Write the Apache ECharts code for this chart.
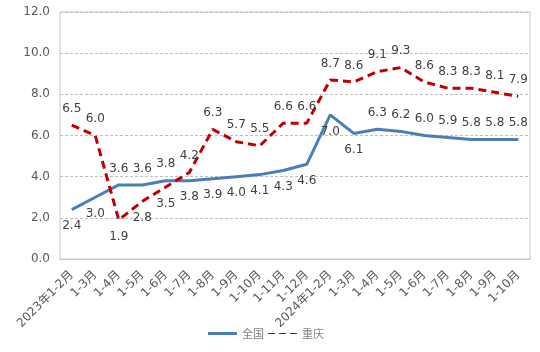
<!doctype html>
<html lang="zh">
<head>
<meta charset="UTF-8">
<title>全国与重庆</title>
<script src="https://cdn.jsdelivr.net/npm/echarts@6/dist/echarts.min.js"></script>
<style>
  html, body { margin: 0; padding: 0; background: #fff; }
</style>
</head>
<body>
<div id="main" style="width:540px; height:352px;"></div>
<script>
    var months = ['2023年1-2月', '1-3月', '1-4月', '1-5月', '1-6月', '1-7月', '1-8月', '1-9月', '1-10月', '1-11月', '1-12月',
        '2024年1-2月', '1-3月', '1-4月', '1-5月', '1-6月', '1-7月', '1-8月', '1-9月', '1-10月'];
    var quanguo = [2.4, 3.0, 3.6, 3.6, 3.8, 3.8, 3.9, 4.0, 4.1, 4.3, 4.6, 7.0, 6.1, 6.3, 6.2, 6.0, 5.9, 5.8, 5.8, 5.8];
    var chongqing = [6.5, 6.0, 1.9, 2.8, 3.5, 4.2, 6.3, 5.7, 5.5, 6.6, 6.6, 8.7, 8.6, 9.1, 9.3, 8.6, 8.3, 8.3, 8.1, 7.9];
    // 标签放在线下方的点
    var qgBelow = [0, 1, 5, 6, 7, 8, 9, 10, 11, 12];
    var cqBelow = [2, 3, 4];

    function withLabels(vals, below) {
        return vals.map(function (v, i) {
            return { value: v, label: { position: below.indexOf(i) >= 0 ? 'bottom' : 'top' } };
        });
    }

    var myChart = echarts.init(document.getElementById('main'));
    myChart.setOption({
        animation: false,
        textStyle: { fontFamily: 'DejaVu Sans' },
        grid: {
            left: 60, right: 10, top: 12, bottom: 93,
            show: true, borderColor: '#c8c8c8', borderWidth: 1
        },
        legend: {
            bottom: 8,
            left: 203,
            itemWidth: 29,
            itemHeight: 3,
            itemGap: 4,
            textStyle: { color: '#7f7f7f', fontSize: 11, fontFamily: 'Noto Sans CJK SC' },
            data: [
                { name: '全国', icon: 'rect', itemStyle: { color: '#4a7ebb', opacity: 1 } },
                { name: '重庆', icon: 'path://M0,0H7V1H0ZM11,0H18V1H11ZM22,0H29V1H22Z', itemStyle: { color: '#c00000', opacity: 1 } }
            ]
        },
        xAxis: {
            type: 'category',
            data: months,
            boundaryGap: true,
            axisLine: { lineStyle: { color: '#c8c8c8' } },
            axisTick: { show: false },
            axisLabel: {
                interval: 0, rotate: 45, color: '#595959', fontSize: 12,
                fontFamily: 'DejaVu Sans, Noto Sans CJK SC', margin: 14
            }
        },
        yAxis: {
            type: 'value',
            min: 0, max: 12, interval: 2,
            axisLine: { show: false },
            axisTick: { show: false },
            axisLabel: {
                color: '#595959', fontSize: 12, margin: 10,
                formatter: function (v) { return v.toFixed(1); }
            },
            splitLine: { lineStyle: { color: '#bfbfbf', type: [3, 2] } }
        },
        series: [
            {
                name: '全国',
                type: 'line',
                data: withLabels(quanguo, qgBelow),
                symbol: 'circle',
                symbolSize: 1,
                showAllSymbol: true,
                itemStyle: { color: 'rgba(0,0,0,0)', borderWidth: 0 },
                lineStyle: { width: 3, color: '#4a7ebb' },
                label: {
                    show: true, color: '#404040', fontSize: 12, distance: 10,
                    formatter: function (p) { return p.value.toFixed(1); }
                },
                labelLayout: { hideOverlap: false }
            },
            {
                name: '重庆',
                type: 'line',
                data: withLabels(chongqing, cqBelow),
                symbol: 'circle',
                symbolSize: 1,
                showAllSymbol: true,
                itemStyle: { color: 'rgba(0,0,0,0)', borderWidth: 0 },
                lineStyle: { width: 3, color: '#c00000', type: [8, 5] },
                label: {
                    show: true, color: '#404040', fontSize: 12, distance: 10,
                    formatter: function (p) { return p.value.toFixed(1); }
                },
                labelLayout: { hideOverlap: false }
            }
        ]
    });
</script>
</body>
</html>
